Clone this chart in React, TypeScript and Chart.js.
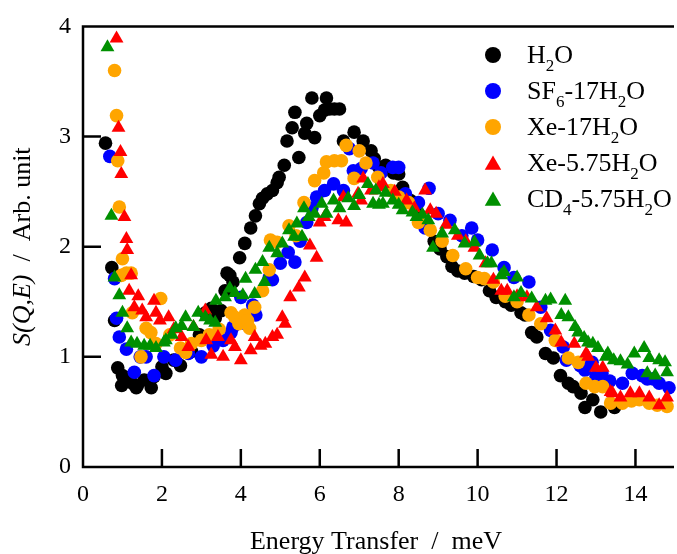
import React, { useEffect, useRef } from 'react';
import { Chart, registerables } from 'chart.js';

Chart.register(...registerables);

const FONT = '"Liberation Serif", "Times New Roman", serif';

const seriesNames = ['H_{2}O', 'SF_{6}-17H_{2}O', 'Xe-17H_{2}O', 'Xe-5.75H_{2}O', 'CD_{4}-5.75H_{2}O'];
const seriesColors = ['#000000', '#0000ff', '#ffa500', '#ff0000', '#009000'];
const seriesShapes = ['circle', 'circle', 'circle', 'triangle', 'triangle'];
const xTicks = [0, 2, 4, 6, 8, 10, 12, 14];
const yTicks = [0, 1, 2, 3, 4];
const xTitle = 'Energy Transfer  /  meV';
const yTitleItalic = 'S(Q,E)';
const yTitleRest = '  /  Arb. unit';

const h2o: number[][] = [[0.57,2.94],[0.73,1.81],[0.8,1.33],[0.88,0.9],[0.98,0.74],[1.0,0.83],[1.13,0.81],[1.25,0.76],[1.35,0.72],[1.38,0.74],[1.55,0.79],[1.73,0.72],[1.8,0.82],[2.0,0.91],[2.1,0.85],[2.3,0.97],[2.47,0.92],[2.75,1.05],[2.95,1.2],[3.1,1.4],[3.25,1.44],[3.35,1.35],[3.5,1.42],[3.6,1.6],[3.65,1.76],[3.72,1.74],[3.8,1.68],[3.97,1.9],[4.1,2.03],[4.25,2.17],[4.37,2.28],[4.47,2.39],[4.55,2.44],[4.67,2.48],[4.8,2.51],[4.92,2.58],[4.97,2.63],[5.1,2.74],[5.17,2.96],[5.3,3.08],[5.37,3.22],[5.47,2.81],[5.62,3.03],[5.67,3.12],[5.8,3.35],[5.87,2.99],[6.0,3.19],[6.12,3.24],[6.17,3.35],[6.25,3.25],[6.37,3.25],[6.5,3.25],[6.6,2.96],[6.87,3.04],[7.1,2.96],[7.3,2.87],[7.38,2.8],[7.5,2.72],[7.62,2.71],[7.67,2.74],[7.87,2.67],[8.0,2.66],[8.1,2.54],[8.3,2.42],[8.5,2.3],[8.7,2.18],[8.9,2.05],[9.05,1.98],[9.22,1.91],[9.35,1.82],[9.5,1.78],[9.67,1.76],[9.9,1.73],[10.1,1.7],[10.3,1.6],[10.47,1.54],[10.7,1.5],[10.85,1.47],[11.1,1.4],[11.2,1.38],[11.37,1.22],[11.5,1.18],[11.72,1.03],[11.92,0.99],[12.1,0.83],[12.3,0.76],[12.42,0.73],[12.62,0.67],[12.72,0.54],[12.92,0.61],[13.12,0.5],[13.47,0.54]];

const sf6: number[][] = [[0.68,2.82],[0.8,1.71],[0.85,1.35],[0.92,1.18],[1.1,1.07],[1.3,0.86],[1.45,1.0],[1.6,1.0],[1.8,0.83],[2.05,1.0],[2.35,0.97],[2.67,1.03],[3.0,1.0],[3.3,1.1],[3.55,1.15],[3.75,1.22],[3.8,1.27],[4.0,1.54],[4.12,1.3],[4.3,1.47],[4.38,1.38],[4.72,1.72],[4.8,1.7],[5.0,1.85],[5.2,1.95],[5.37,1.86],[5.5,2.05],[5.67,2.22],[5.8,2.35],[5.92,2.45],[6.12,2.51],[6.35,2.57],[6.6,2.51],[6.75,2.89],[6.85,2.69],[7.05,2.71],[7.35,2.76],[7.55,2.67],[7.85,2.72],[8.0,2.72],[8.17,2.48],[8.5,2.4],[8.67,2.17],[8.77,2.53],[9.0,2.3],[9.3,2.24],[9.6,2.1],[9.85,2.17],[10.0,2.06],[10.37,1.97],[10.67,1.81],[10.92,1.72],[11.3,1.68],[11.6,1.45],[11.85,1.24],[12.17,1.09],[12.25,0.97],[12.6,0.92],[12.72,0.88],[12.9,0.95],[13.0,0.82],[13.15,0.85],[13.35,0.78],[13.67,0.76],[13.92,0.85],[14.17,0.83],[14.3,0.8],[14.45,0.8],[14.6,0.76],[14.85,0.72]];

const xe17: number[][] = [[0.8,3.6],[0.85,3.19],[0.88,2.78],[0.92,2.36],[0.97,1.74],[1.0,1.89],[1.1,1.76],[1.22,1.76],[1.25,1.4],[1.47,1.0],[1.6,1.26],[1.72,1.22],[1.85,1.12],[1.97,1.53],[2.2,1.2],[2.47,1.08],[2.6,1.04],[2.75,1.12],[3.0,1.15],[3.2,1.2],[3.45,1.25],[3.75,1.4],[3.85,1.36],[3.95,1.3],[4.1,1.38],[4.17,1.33],[4.22,1.26],[4.35,1.45],[4.55,1.6],[4.72,1.79],[4.75,2.06],[4.92,2.04],[5.22,2.19],[5.4,2.1],[5.6,2.4],[5.87,2.6],[6.1,2.67],[6.17,2.77],[6.37,2.78],[6.55,2.78],[6.67,2.92],[6.87,2.62],[7.0,2.87],[7.17,2.76],[7.47,2.63],[7.8,2.51],[8.0,2.45],[8.25,2.4],[8.5,2.22],[8.8,2.15],[9.1,2.05],[9.37,1.92],[9.7,1.8],[10.0,1.72],[10.17,1.71],[10.4,1.68],[10.7,1.55],[11.0,1.5],[11.3,1.38],[11.6,1.3],[11.97,1.15],[12.3,0.99],[12.55,0.95],[12.75,0.76],[12.97,0.73],[13.17,0.73],[13.37,0.58],[13.67,0.58],[13.9,0.6],[14.1,0.61],[14.35,0.58],[14.55,0.56],[14.8,0.55]];

const xe575: number[][] = [[0.85,3.89],[0.9,3.08],[0.95,2.86],[0.97,2.66],[1.05,2.27],[1.1,2.07],[1.12,1.97],[1.22,1.74],[1.17,1.6],[1.3,1.45],[1.4,1.55],[1.5,1.42],[1.6,1.36],[1.8,1.51],[1.85,1.4],[1.95,1.33],[2.17,1.36],[2.3,1.25],[2.5,1.18],[2.67,1.09],[2.8,1.27],[3.1,1.42],[3.12,1.15],[3.25,1.02],[3.42,1.18],[3.55,1.0],[3.75,1.15],[3.85,1.09],[4.0,0.97],[4.25,1.06],[4.35,1.18],[4.5,1.1],[4.62,1.12],[4.8,1.18],[4.92,1.2],[5.05,1.36],[5.12,1.3],[5.25,1.54],[5.47,1.63],[5.62,1.72],[5.75,2.01],[5.92,1.9],[6.0,2.22],[6.12,2.27],[6.47,2.24],[6.67,2.22],[6.6,2.45],[6.97,2.48],[7.05,2.42],[7.1,2.62],[7.3,2.51],[7.5,2.54],[7.6,2.57],[7.9,2.5],[8.2,2.42],[8.4,2.35],[8.67,2.51],[8.8,2.33],[8.95,2.3],[9.2,2.2],[9.5,2.1],[9.7,2.05],[9.92,1.99],[10.2,1.85],[10.4,1.7],[10.6,1.6],[10.75,1.6],[11.0,1.55],[11.25,1.54],[11.5,1.45],[11.75,1.35],[11.97,1.24],[12.12,1.13],[12.45,1.12],[12.75,1.03],[12.8,1.0],[13.0,0.9],[13.17,0.9],[13.37,0.68],[13.42,0.67],[13.62,0.63],[13.87,0.67],[14.1,0.67],[14.35,0.63],[14.6,0.56],[14.8,0.63]];

const cd4: number[][] = [[0.62,3.81],[0.72,2.28],[0.8,1.72],[0.92,1.56],[1.0,1.4],[1.12,1.26],[1.22,1.13],[1.37,1.12],[1.55,1.1],[1.7,1.1],[1.85,1.08],[2.05,1.13],[2.1,1.15],[2.25,1.2],[2.35,1.26],[2.5,1.28],[2.6,1.36],[2.8,1.27],[2.92,1.4],[3.1,1.36],[3.22,1.33],[3.35,1.31],[3.37,1.51],[3.6,1.54],[3.72,1.62],[3.85,1.58],[4.05,1.56],[4.12,1.71],[4.35,1.57],[4.37,1.79],[4.55,1.86],[4.6,1.68],[4.72,1.99],[4.92,1.94],[5.05,2.03],[5.22,2.15],[5.35,2.09],[5.42,2.21],[5.55,2.09],[5.6,2.35],[5.72,2.27],[5.87,2.3],[6.05,2.39],[6.17,2.3],[6.35,2.42],[6.5,2.35],[6.72,2.44],[6.87,2.37],[7.0,2.47],[7.22,2.57],[7.35,2.39],[7.42,2.51],[7.5,2.38],[7.6,2.39],[7.67,2.49],[7.85,2.42],[8.0,2.38],[8.1,2.33],[8.35,2.31],[8.45,2.27],[8.6,2.29],[8.75,2.24],[8.87,1.99],[9.1,2.12],[9.42,2.15],[9.67,2.03],[9.92,2.04],[10.05,1.92],[10.25,1.85],[10.35,1.85],[10.6,1.74],[10.67,1.77],[10.92,1.54],[11.0,1.72],[11.1,1.58],[11.37,1.53],[11.72,1.51],[11.85,1.52],[12.22,1.51],[12.12,1.38],[12.3,1.36],[12.47,1.27],[12.55,1.22],[12.7,1.17],[12.8,1.13],[12.92,1.12],[13.05,1.08],[13.25,1.0],[13.3,1.03],[13.45,0.97],[13.62,0.96],[13.8,0.93],[13.97,1.03],[14.22,1.08],[14.3,0.85],[14.35,0.99],[14.5,0.83],[14.6,0.97],[14.75,0.95],[14.8,0.86]];

const seriesData = [h2o, sf6, xe17, xe575, cd4];

function segments(label: string) {
  const parts = label.split(/_\{([^}]*)\}/);
  return parts.map((t, i) => ({ t, sub: i % 2 === 1 })).filter((s) => s.t.length > 0);
}

function drawMarker(ctx: CanvasRenderingContext2D, shape: string, x: number, y: number, r: number) {
  ctx.beginPath();
  if (shape === 'circle') {
    ctx.arc(x, y, r, 0, Math.PI * 2);
  } else {
    ctx.moveTo(x, y - r);
    ctx.lineTo(x + r * Math.sin((2 * Math.PI) / 3), y - r * Math.cos((2 * Math.PI) / 3));
    ctx.lineTo(x + r * Math.sin((4 * Math.PI) / 3), y - r * Math.cos((4 * Math.PI) / 3));
    ctx.closePath();
  }
  ctx.fill();
}

const framePlugin = {
  id: 'frame',
  afterDatasetsDraw(chart: any) {
    const { ctx, chartArea: a, scales } = chart;
    ctx.save();
    ctx.strokeStyle = '#000';
    ctx.lineWidth = 2.5;
    ctx.beginPath();
    ctx.moveTo(a.right + 5, a.top);
    ctx.lineTo(a.left, a.top);
    ctx.lineTo(a.left, a.bottom);
    ctx.lineTo(a.right + 5, a.bottom);
    for (const v of xTicks) {
      const px = scales.x.getPixelForValue(v);
      ctx.moveTo(px, a.bottom);
      ctx.lineTo(px, a.bottom - 18);
    }
    for (const v of yTicks) {
      const py = scales.y.getPixelForValue(v);
      ctx.moveTo(a.left, py);
      ctx.lineTo(a.left + 18, py);
    }
    ctx.stroke();
    ctx.restore();
  },
  afterDraw(chart: any) {
    const { ctx, chartArea: a } = chart;
    ctx.save();
    ctx.fillStyle = '#000';
    ctx.textBaseline = 'alphabetic';
    // x title
    ctx.font = `26px ${FONT}`;
    ctx.textAlign = 'center';
    ctx.fillText(xTitle, (a.left + a.right) / 2, 549);
    // y title
    ctx.save();
    ctx.translate(30, (a.top + a.bottom) / 2);
    ctx.rotate(-Math.PI / 2);
    ctx.textAlign = 'left';
    ctx.font = `italic 26px ${FONT}`;
    const w1 = ctx.measureText(yTitleItalic).width;
    ctx.font = `26px ${FONT}`;
    const w2 = ctx.measureText(yTitleRest).width;
    const x0 = -(w1 + w2) / 2;
    ctx.font = `italic 26px ${FONT}`;
    ctx.fillText(yTitleItalic, x0, 0);
    ctx.font = `26px ${FONT}`;
    ctx.fillText(yTitleRest, x0 + w1, 0);
    ctx.restore();
    // legend
    ctx.textAlign = 'left';
    seriesNames.forEach((name, i) => {
      const cy = 55 + i * 36;
      ctx.fillStyle = seriesColors[i];
      if (seriesShapes[i] === 'circle') drawMarker(ctx, 'circle', 493, cy, 8);
      else drawMarker(ctx, 'triangle', 493, cy + 2, 9.5);
      ctx.fillStyle = '#000';
      let x = 527;
      const base = cy + 8;
      for (const s of segments(name)) {
        ctx.font = s.sub ? `17px ${FONT}` : `26px ${FONT}`;
        ctx.fillText(s.t, x, s.sub ? base + 8 : base);
        x += ctx.measureText(s.t).width;
      }
    });
    ctx.restore();
  },
};

export default function App() {
  const ref = useRef<HTMLCanvasElement>(null);
  useEffect(() => {
    const canvas = ref.current!;
    const datasets = seriesData.map((pts, i) => ({
      label: seriesNames[i],
      data: pts.map((p) => ({ x: p[0], y: p[1] })),
      backgroundColor: seriesColors[i],
      borderColor: seriesColors[i],
      borderWidth: 0,
      pointStyle: seriesShapes[i],
      pointRadius: seriesShapes[i] === 'circle' ? 6.8 : 8,
      pointHoverRadius: seriesShapes[i] === 'circle' ? 6.8 : 8,
      order: seriesNames.length - i,
      clip: false as any,
    }));
    const chart = new Chart(canvas, {
      type: 'scatter',
      data: { datasets },
      plugins: [framePlugin],
      options: {
        animation: false,
        responsive: false,
        devicePixelRatio: 1,
        layout: { padding: { top: 26, left: 0, right: 0, bottom: 0 } },
        plugins: { legend: { display: false }, tooltip: { enabled: false } },
        scales: {
          x: {
            type: 'linear',
            min: 0,
            max: 14.85,
            afterFit: (s: any) => { s.height = 87; },
            afterBuildTicks: (s: any) => { s.ticks = xTicks.map((v) => ({ value: v })); },
            grid: { display: false, drawTicks: false },
            border: { display: false },
            ticks: { color: '#000', font: { family: FONT, size: 24 }, padding: 13, maxRotation: 0 },
          },
          y: {
            type: 'linear',
            min: 0,
            max: 4,
            afterFit: (s: any) => { s.width = 83; },
            afterBuildTicks: (s: any) => { s.ticks = yTicks.map((v) => ({ value: v })); },
            grid: { display: false, drawTicks: false },
            border: { display: false },
            ticks: { color: '#000', font: { family: FONT, size: 24 }, padding: 12 },
          },
        },
      },
    });
    return () => chart.destroy();
  }, []);
  return (
    <div style={{ position: 'fixed', left: 0, top: 0, width: 677, height: 554, background: '#fff', overflow: 'hidden' }}>
      <canvas ref={ref} width={677} height={554} style={{ display: 'block', width: 677, height: 554 }} />
    </div>
  );
}
